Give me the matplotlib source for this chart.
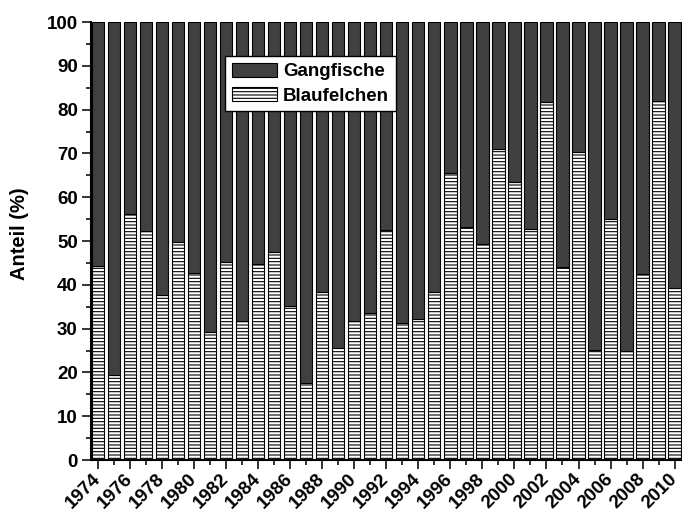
import matplotlib
matplotlib.use("Agg")
import matplotlib.pyplot as plt
from matplotlib.ticker import MultipleLocator
from matplotlib.patches import Patch

# Species share of the catch per year (%)
years = list(range(1974, 2011))
blaufelchen = [44.4, 19.4, 56.2, 52.3, 37.6, 49.8, 42.7, 29.2, 45.1, 31.7,
               44.8, 47.6, 35.1, 17.6, 38.3, 25.6, 31.7, 33.6, 52.5, 31.3,
               32.3, 38.4, 65.5, 53.2, 49.4, 71.1, 63.4, 52.7, 81.7, 44.0,
               70.3, 25.2, 55.0, 24.8, 42.5, 81.9, 39.3]
gangfische = [55.6, 80.6, 43.8, 47.7, 62.4, 50.2, 57.3, 70.8, 54.9, 68.3,
              55.2, 52.4, 64.9, 82.4, 61.7, 74.4, 68.3, 66.4, 47.5, 68.7,
              67.7, 61.6, 34.5, 46.8, 50.6, 28.9, 36.6, 47.3, 18.3, 56.0,
              29.7, 74.8, 45.0, 75.2, 57.5, 18.1, 60.7]
labelled_years = [y for y in years if y % 2 == 0]

plt.rcParams["font.family"] = ["Liberation Sans", "DejaVu Sans"]
plt.rcParams["font.weight"] = "bold"
plt.rcParams["hatch.linewidth"] = 0.8

dark = "#404040"
fs = 13.5

fig = plt.figure(figsize=(6.82, 5.13), dpi=100)
ax = fig.add_axes([0.1334, 0.1033, 0.8666, 0.8538])

width = 0.77
ax.bar(years, blaufelchen, width=width, color="white", edgecolor="black",
       hatch="-----", linewidth=0.8, zorder=2)
ax.bar(years, gangfische, width=width, bottom=blaufelchen, color=dark,
       edgecolor="black", linewidth=0.8, zorder=2)

ax.set_xlim(1973.57, 2010.46)
ax.set_ylim(0, 100)

ax.yaxis.set_major_locator(MultipleLocator(10))
ax.yaxis.set_minor_locator(MultipleLocator(5))
ax.set_xticks(labelled_years)
ax.set_xticks([y for y in years if y % 2 == 1], minor=True)
ax.set_xticklabels([str(y) for y in labelled_years], rotation=45,
                   ha="right", va="center", rotation_mode="anchor",
                   fontsize=fs, fontweight="bold")
for lab in ax.get_yticklabels():
    lab.set_fontsize(fs)
    lab.set_fontweight("bold")

ax.tick_params(axis="both", which="major", direction="out", length=6.5,
               width=1.1, colors="black")
ax.tick_params(axis="both", which="minor", direction="out", length=3.3,
               width=1.1)
ax.tick_params(axis="x", which="major", pad=5)
ax.tick_params(axis="y", which="major", pad=3, labelsize=fs)

for side in ("top", "right"):
    ax.spines[side].set_visible(False)
for side in ("left", "bottom"):
    ax.spines[side].set_linewidth(1.5)

ax.set_ylabel("Anteil (%)", fontsize=14.5, fontweight="bold")
ax.yaxis.set_label_coords(-0.105, 0.516)

handles = [Patch(facecolor=dark, edgecolor="black", linewidth=0.8,
                 label="Gangfische"),
           Patch(facecolor="white", edgecolor="black", linewidth=0.8,
                 hatch="-----", label="Blaufelchen")]
leg = ax.legend(handles=handles, loc="upper left",
                bbox_to_anchor=(0.2267, 0.922), borderaxespad=0,
                fancybox=False, framealpha=1, edgecolor="black",
                handlelength=2.4, handleheight=0.8, handletextpad=0.35,
                borderpad=0.35, labelspacing=0.35,
                prop={"size": fs, "weight": "bold"})
leg.get_frame().set_linewidth(1.0)
leg.set_zorder(5)

fig.savefig("out.png", dpi=100)
